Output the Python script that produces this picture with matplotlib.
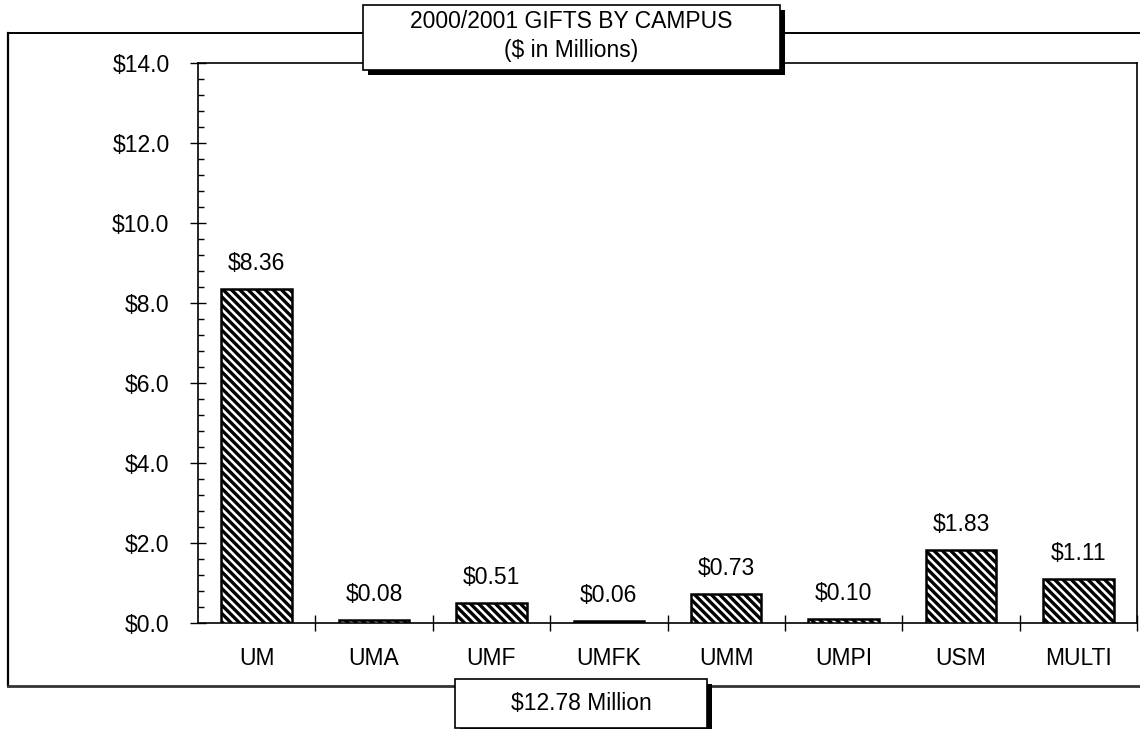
import matplotlib
matplotlib.use("Agg")
import matplotlib.pyplot as plt
from matplotlib.patches import Rectangle
from matplotlib.lines import Line2D
from matplotlib.ticker import MultipleLocator, FixedLocator, FuncFormatter

campuses = ["UM", "UMA", "UMF", "UMFK", "UMM", "UMPI", "USM", "MULTI"]
gifts = [8.36, 0.08, 0.51, 0.06, 0.73, 0.10, 1.83, 1.11]
title_lines = ["2000/2001 GIFTS BY CAMPUS", "($ in Millions)"]
total_label = "$12.78 Million"

plt.rcParams['font.family'] = ['Liberation Sans', 'DejaVu Sans']
plt.rcParams['hatch.linewidth'] = 2.4
plt.rcParams['hatch.color'] = 'black'

FS = 16.5
W, H = 1140, 729
fig = plt.figure(figsize=(W / 100, H / 100), dpi=100)
fig.patch.set_facecolor('white')

def fx(px):
    return px / W

def fy(py):
    return 1 - py / H

# axes placement (pixels)
L, R, T, B = 198, 1137, 63, 623
ax = fig.add_axes([fx(L), fy(B), fx(R) - fx(L), fy(T) - fy(B)])

xs = list(range(len(campuses)))
ax.bar(xs, gifts, width=0.6, facecolor='white', edgecolor='black',
       linewidth=1.8, hatch='\\\\\\\\', zorder=3)

for x, v in zip(xs, gifts):
    ax.annotate(f"${v:.2f}", (x, v), xytext=(0, 18), textcoords='offset points',
                ha='center', va='center', fontsize=FS, color='black')

ax.set_xlim(-0.5, len(campuses) - 0.5)
ax.set_ylim(0, 14)

ax.yaxis.set_major_locator(MultipleLocator(2))
ax.yaxis.set_minor_locator(MultipleLocator(0.4))
ax.yaxis.set_major_formatter(FuncFormatter(lambda v, p: f"${v:.1f}"))
ax.tick_params(axis='y', which='major', direction='inout', length=11, width=1,
               labelsize=FS, pad=15)
ax.tick_params(axis='y', which='minor', direction='in', length=4, width=1)

ax.set_xticks(xs)
ax.set_xticklabels(campuses)
ax.xaxis.set_minor_locator(FixedLocator([i + 0.5 for i in range(len(campuses))]))
ax.tick_params(axis='x', which='major', length=0, labelsize=FS, pad=17)
ax.tick_params(axis='x', which='minor', direction='inout', length=11, width=1)

for s in ax.spines.values():
    s.set_linewidth(1.2)
    s.set_color('black')
ax.set_facecolor('white')

# outer box (left, top, bottom; right edge off-image)
fig.add_artist(Line2D([fx(8), fx(8)], [fy(33), fy(686)], color='black', lw=1.6, zorder=5))
fig.add_artist(Line2D([fx(8), fx(1145)], [fy(33), fy(33)], color='black', lw=1.4, zorder=5))
fig.add_artist(Line2D([fx(8), fx(1145)], [fy(686), fy(686)], color='#333333', lw=2.0, zorder=5))

def shadow_box(x0, y0, x1, y1, off=5):
    sh = Rectangle((fx(x0 + off), fy(y1 + off)), fx(x1) - fx(x0), fy(y0) - fy(y1),
                   transform=fig.transFigure, facecolor='black', edgecolor='none', zorder=10)
    bx = Rectangle((fx(x0), fy(y1)), fx(x1) - fx(x0), fy(y0) - fy(y1),
                   transform=fig.transFigure, facecolor='white', edgecolor='black',
                   lw=1.2, zorder=11)
    fig.add_artist(sh)
    fig.add_artist(bx)

shadow_box(363, 5, 780, 70)
fig.text(fx(571), fy(22), title_lines[0], ha='center', va='center', fontsize=FS, zorder=12)
fig.text(fx(571), fy(51), title_lines[1], ha='center', va='center', fontsize=FS, zorder=12)

shadow_box(455, 679, 707, 728)
fig.text(fx(581), fy(703), total_label, ha='center', va='center', fontsize=FS, zorder=12)

fig.savefig("out.png", dpi=100, facecolor='white')
